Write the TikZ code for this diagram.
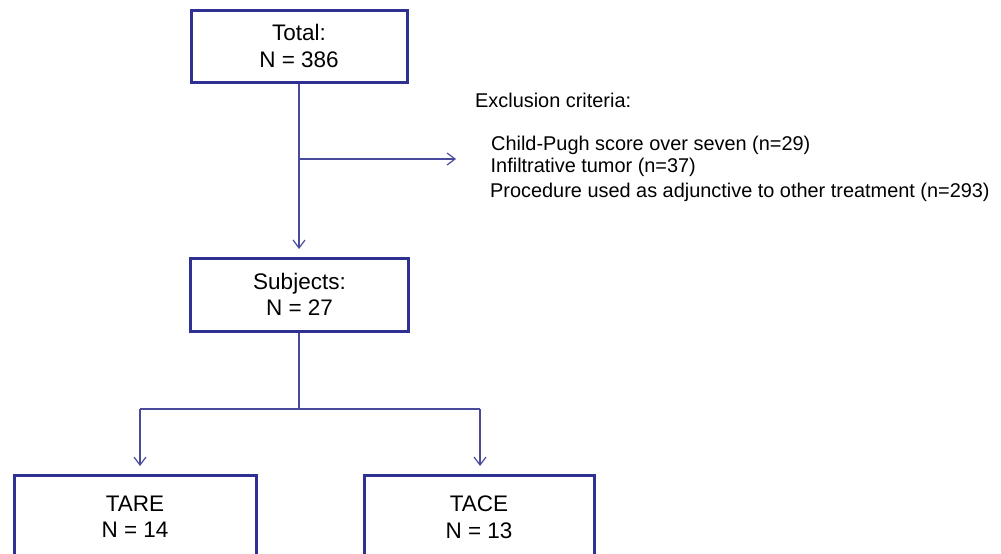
\documentclass[tikz,border=0pt]{standalone}
\usepackage{fontspec}
\setmainfont{Liberation Sans}
\usetikzlibrary{arrows.meta}
\definecolor{boxblue}{HTML}{2E3192}
\definecolor{lineblue}{HTML}{4A4A9C}
\begin{document}
\begin{tikzpicture}[x=1pt,y=-1pt,
  flowbox/.style={draw=boxblue,line width=3pt,rectangle,inner sep=0pt,align=center,
    font=\fontsize{22.5}{26.5}\selectfont},
  conn/.style={draw=lineblue,line width=1.2pt},
  arr/.style={conn,-{Straight Barb[length=8pt,width=12pt,line width=1.2pt]}},
  crit/.style={anchor=west,inner sep=0pt,font=\fontsize{19.9}{23}\selectfont}]
\useasboundingbox[fill=white] (0,0) rectangle (1001,554);
\clip (0,0) rectangle (1001,554);
\node[flowbox,minimum width=216pt,minimum height=72pt] (total) at (299,46) {Total:\\N = 386};
\node[flowbox,minimum width=218pt,minimum height=73pt] (subj) at (299.5,294.5) {Subjects:\\N = 27};
\node[flowbox,minimum width=242pt,minimum height=84pt] (tare) at (135,517) {TARE\\N = 14};
\node[flowbox,minimum width=230pt,minimum height=84pt] (tace) at (479,517) {TACE\\N = 13};
\coordinate (branch) at (299,159);
\coordinate (exend) at (456,159);
\coordinate (split) at (299,409);
\coordinate (la) at (140,409);
\coordinate (ra) at (480,409);
\coordinate (lt) at (140,466);
\coordinate (rt) at (480,466);
\draw[arr] (total.south -| branch) -- (branch |- 0,249) coordinate (subjtip);
\draw[arr] (branch) -- (exend);
\draw[conn] (subj.south -| split) -- (split);
\draw[conn] (la) -- (ra);
\draw[arr] (la) -- (lt);
\draw[arr] (ra) -- (rt);
\node[crit] (ex) at (475,100) {Exclusion criteria:};
\node[crit] (c1) at (491,145) {Child-Pugh score over seven (n=29)};
\node[crit] (c2) at (490.5,167) {Infiltrative tumor (n=37)};
\node[crit] (c3) at (490,192) {Procedure used as adjunctive to other treatment (n=293)};
\end{tikzpicture}
\end{document}
